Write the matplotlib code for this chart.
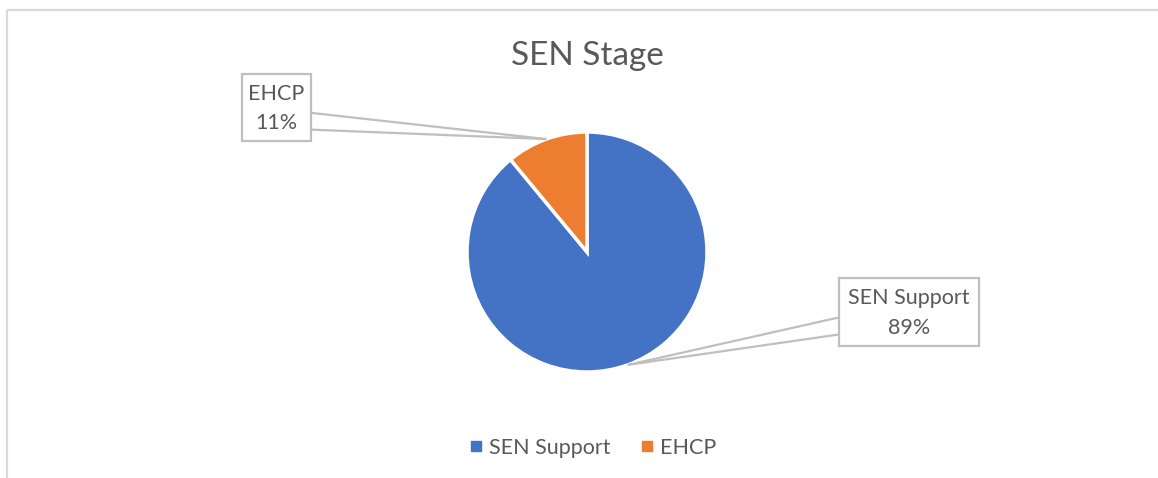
import numpy as np
import matplotlib
matplotlib.use("Agg")
import matplotlib.pyplot as plt
from matplotlib.patches import Rectangle

# -------------------------
# data
# -------------------------
labels = ["SEN Support", "EHCP"]
sizes = [89, 11]
colors = ["#4472C4", "#ED7D31"]
title = "SEN Stage"

# -------------------------
# layout (pixel coords, y measured from top)
# -------------------------
W, H = 1158, 478
cx, cy, r = 587, 252, 120
# label boxes: (left, top, right, bottom), side where the pointer leaves
boxes = {
    "EHCP": ((242, 74, 311, 141), "right"),
    "SEN Support": ((839, 278, 979, 346), "left"),
}
grey_txt = "#595959"
line_col = "#BFBFBF"

plt.rcParams["font.family"] = ["Lato", "DejaVu Sans"]

fig = plt.figure(figsize=(W / 100, H / 100), dpi=100)
ax = fig.add_axes([0, 0, 1, 1])


def py(y):
    # convert pixel-from-top to data y
    return H - y


# chart border (only top and left visible, rest is cropped)
ax.plot([7, W], [py(10), py(10)], color="#D9D9D9", lw=1.6, solid_capstyle="butt")
ax.plot([7, 7], [py(10), 0], color="#D9D9D9", lw=1.6, solid_capstyle="butt")

# pie
wedges, _ = ax.pie(sizes, colors=colors, startangle=90, counterclock=False,
                   center=(cx, py(cy)), radius=r, frame=True,
                   wedgeprops=dict(edgecolor="white", linewidth=2.5))
ax.set_xlim(0, W)
ax.set_ylim(0, H)
ax.set_aspect("equal")
ax.axis("off")

ax.text(cx, py(56), title, ha="center", va="center", fontsize=24, color=grey_txt)

# data callouts
total = sum(sizes)
for w, lab, val in zip(wedges, labels, sizes):
    mid = np.deg2rad((w.theta1 + w.theta2) / 2)
    tip = (cx + r * np.cos(mid), py(cy) + r * np.sin(mid))
    (l, t, rr, b), side = boxes[lab]
    ex = rr if side == "right" else l
    hgt = b - t
    for f in (0.58, 0.83):
        ax.plot([ex, tip[0]], [py(t + f * hgt), tip[1]], color=line_col, lw=1.6,
                solid_capstyle="butt", zorder=3)
    ax.add_patch(Rectangle((l, py(b)), rr - l, hgt, facecolor="white",
                           edgecolor=line_col, lw=1.6, zorder=4))
    pct = round(100 * val / total)
    ax.text((l + rr) / 2, py((t + b) / 2 + 1), f"{lab}\n{pct}%", ha="center", va="center",
            fontsize=15.5, color=grey_txt, linespacing=1.6, zorder=5)

# legend
handles = [plt.Line2D([], [], marker="s", ls="", markersize=6.5, color=c) for c in colors]
fig.legend(handles, labels, loc="center", bbox_to_anchor=(592 / W, 1 - 448 / H),
           ncol=2, frameon=False, fontsize=15.5, labelcolor=grey_txt,
           handletextpad=0.2, columnspacing=1.3, handlelength=0.8)

fig.savefig("out.png", dpi=100)
